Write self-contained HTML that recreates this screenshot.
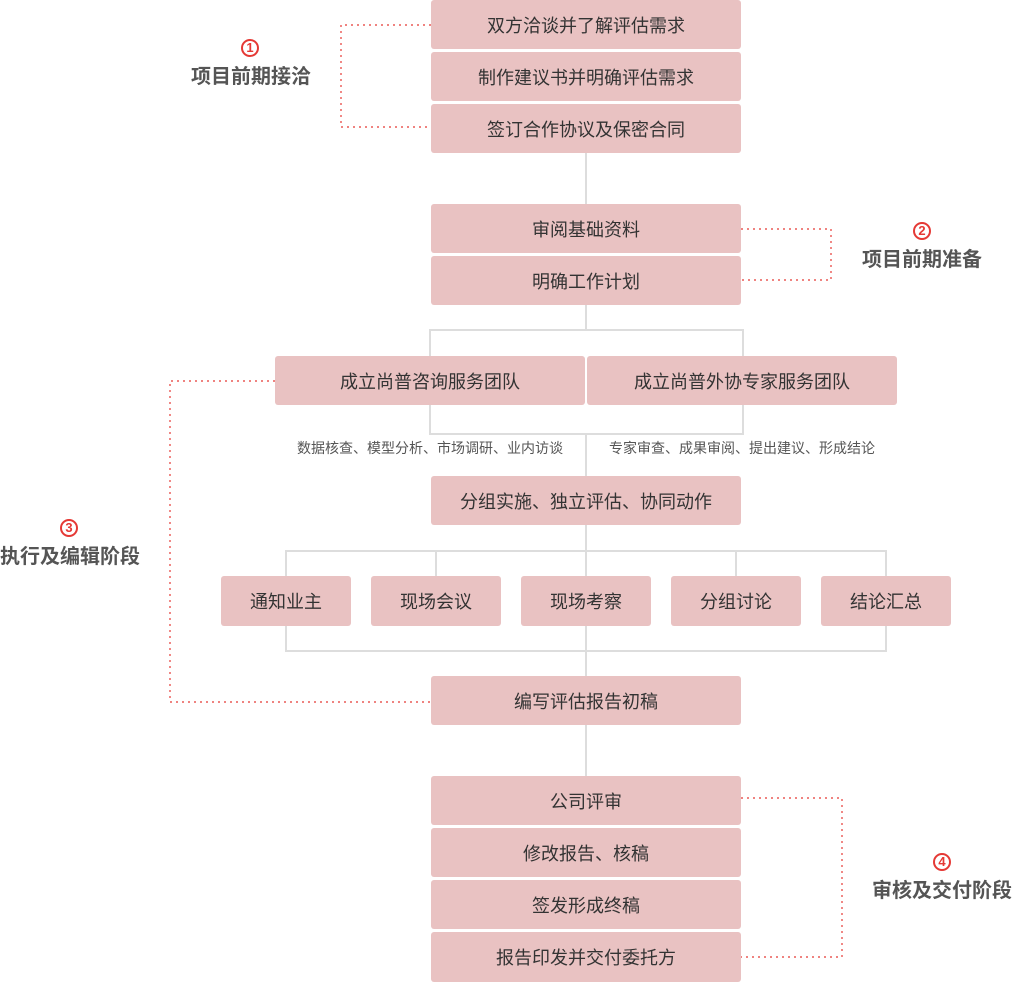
<!DOCTYPE html>
<html>
<head>
<meta charset="utf-8">
<style>
  html,body{margin:0;padding:0;background:#fff;}
  body{width:1012px;height:982px;position:relative;overflow:hidden;
    font-family:"Liberation Sans","Noto Sans CJK SC",sans-serif;}
  .b{position:absolute;background:#e9c2c2;border-radius:3px;color:#333;
    font-size:18px;display:flex;align-items:center;justify-content:center;
    white-space:nowrap;}
  .s{position:absolute;font-size:14px;color:#555;white-space:nowrap;
    transform:translate(-50%,-50%);line-height:1;}
  .lab{position:absolute;font-size:20px;font-weight:bold;color:#555;white-space:nowrap;
    transform:translate(-50%,-50%);line-height:1;}
  .num{position:absolute;width:14px;height:14px;border:2px solid #e53935;border-radius:50%;
    color:#e53935;font-size:13px;font-weight:bold;line-height:14px;text-align:center;
    font-family:"Liberation Sans",sans-serif;transform:translate(-50%,-50%);}
  svg{position:absolute;left:0;top:0;}
</style>
</head>
<body>
<svg width="1012" height="982" viewBox="0 0 1012 982">
  <g stroke="#dddddd" stroke-width="2" fill="none">
    <line x1="586" y1="150" x2="586" y2="206"/>
    <line x1="586" y1="303" x2="586" y2="330"/>
    <polyline points="430,360 430,330 743,330 743,360"/>
    <polyline points="430,400 430,434 743,434 743,400"/>
    <line x1="586" y1="434" x2="586" y2="478"/>
    <line x1="586" y1="523" x2="586" y2="678"/>
    <rect x="286" y="551" width="600" height="100"/>
    <line x1="436" y1="551" x2="436" y2="578"/>
    <line x1="736" y1="551" x2="736" y2="578"/>
    <line x1="586" y1="723" x2="586" y2="778"/>
  </g>
  <g stroke="#e53935" stroke-width="1.2" fill="none" stroke-dasharray="2,4">
    <polyline points="431,25 341,25 341,127 431,127"/>
    <polyline points="741,229 831,229 831,280 741,280"/>
    <polyline points="275,381 170,381 170,702 431,702"/>
    <polyline points="741,798 842,798 842,957 741,957"/>
  </g>
</svg>

<div class="b" style="left:431px;top:0px;width:310px;height:49px;">双方洽谈并了解评估需求</div>
<div class="b" style="left:431px;top:52px;width:310px;height:49px;">制作建议书并明确评估需求</div>
<div class="b" style="left:431px;top:104px;width:310px;height:49px;">签订合作协议及保密合同</div>

<div class="b" style="left:431px;top:204px;width:310px;height:49px;">审阅基础资料</div>
<div class="b" style="left:431px;top:256px;width:310px;height:49px;">明确工作计划</div>

<div class="b" style="left:275px;top:356px;width:310px;height:49px;">成立尚普咨询服务团队</div>
<div class="b" style="left:587px;top:356px;width:310px;height:49px;">成立尚普外协专家服务团队</div>

<div class="s" style="left:430px;top:448px;">数据核查、模型分析、市场调研、业内访谈</div>
<div class="s" style="left:742px;top:448px;">专家审查、成果审阅、提出建议、形成结论</div>

<div class="b" style="left:431px;top:476px;width:310px;height:49px;">分组实施、独立评估、协同动作</div>

<div class="b" style="left:221px;top:576px;width:130px;height:50px;">通知业主</div>
<div class="b" style="left:371px;top:576px;width:130px;height:50px;">现场会议</div>
<div class="b" style="left:521px;top:576px;width:130px;height:50px;">现场考察</div>
<div class="b" style="left:671px;top:576px;width:130px;height:50px;">分组讨论</div>
<div class="b" style="left:821px;top:576px;width:130px;height:50px;">结论汇总</div>

<div class="b" style="left:431px;top:676px;width:310px;height:49px;">编写评估报告初稿</div>

<div class="b" style="left:431px;top:776px;width:310px;height:49px;">公司评审</div>
<div class="b" style="left:431px;top:828px;width:310px;height:49px;">修改报告、核稿</div>
<div class="b" style="left:431px;top:880px;width:310px;height:49px;">签发形成终稿</div>
<div class="b" style="left:431px;top:932px;width:310px;height:50px;">报告印发并交付委托方</div>

<div class="num" style="left:250px;top:48px;">1</div>
<div class="lab" style="left:251px;top:77px;">项目前期接洽</div>

<div class="num" style="left:922px;top:231px;">2</div>
<div class="lab" style="left:922px;top:260px;">项目前期准备</div>

<div class="num" style="left:69px;top:528px;">3</div>
<div class="lab" style="left:70px;top:557px;">执行及编辑阶段</div>

<div class="num" style="left:942px;top:862px;">4</div>
<div class="lab" style="left:942px;top:891px;">审核及交付阶段</div>
</body>
</html>
